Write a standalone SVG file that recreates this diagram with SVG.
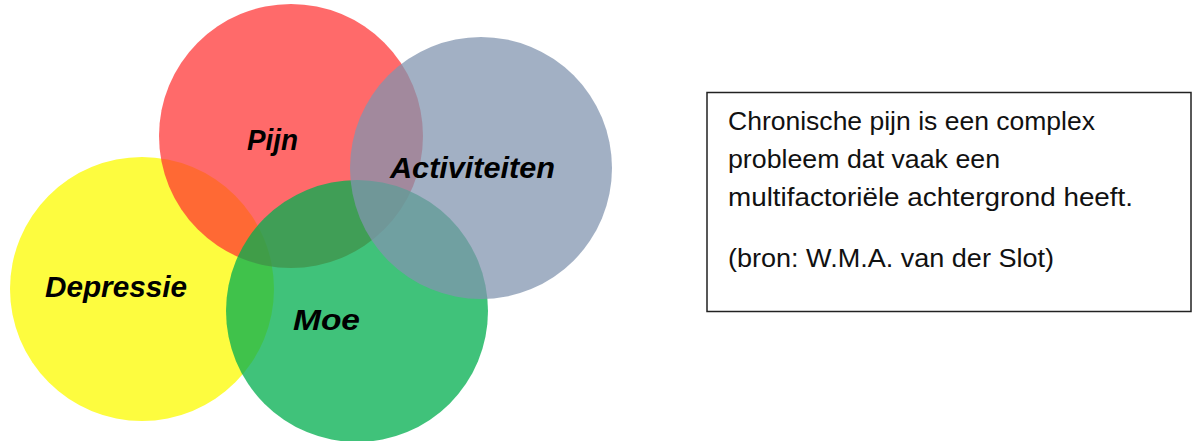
<svg xmlns="http://www.w3.org/2000/svg" width="1192" height="441" viewBox="0 0 1192 441">
<style>
.lbl{font-family:"Liberation Sans",Arial,sans-serif;font-weight:bold;font-style:italic;font-size:29px;fill:#000}
.body{font-family:"Liberation Sans",Arial,sans-serif;font-size:26.5px;fill:#111}
</style>
<rect x="0" y="0" width="1192" height="441" fill="#fff"/>
<g id="depressie">
<circle cx="142" cy="289" r="132" fill="#FDFC3F"/>
<text class="lbl" x="45" y="297" textLength="142" lengthAdjust="spacingAndGlyphs">Depressie</text>
</g>
<g id="pijn">
<circle cx="291" cy="136" r="132" fill="#FF3131" fill-opacity="0.72"/>
<text class="lbl" x="247" y="150" textLength="51" lengthAdjust="spacingAndGlyphs">Pijn</text>
</g>
<g id="moe">
<circle cx="357" cy="311" r="131" fill="#03AE4F" fill-opacity="0.757"/>
<text class="lbl" x="293" y="330" textLength="67" lengthAdjust="spacingAndGlyphs">Moe</text>
</g>
<g id="activiteiten">
<circle cx="481" cy="168" r="131" fill="#8295B0" fill-opacity="0.743"/>
<text class="lbl" x="390" y="178" textLength="165" lengthAdjust="spacingAndGlyphs">Activiteiten</text>
</g>
<g id="note">
<rect x="707" y="92.5" width="484" height="219" fill="#fff" stroke="#222" stroke-width="1.5"/>
<text class="body" x="728" y="130" textLength="367" lengthAdjust="spacingAndGlyphs">Chronische pijn is een complex</text>
<text class="body" x="728" y="168" textLength="272" lengthAdjust="spacingAndGlyphs">probleem dat vaak een</text>
<text class="body" x="728" y="206" textLength="405" lengthAdjust="spacingAndGlyphs">multifactoriële achtergrond heeft.</text>
<text class="body" x="728" y="267" textLength="326" lengthAdjust="spacingAndGlyphs">(bron: W.M.A. van der Slot)</text>
</g>
</svg>
